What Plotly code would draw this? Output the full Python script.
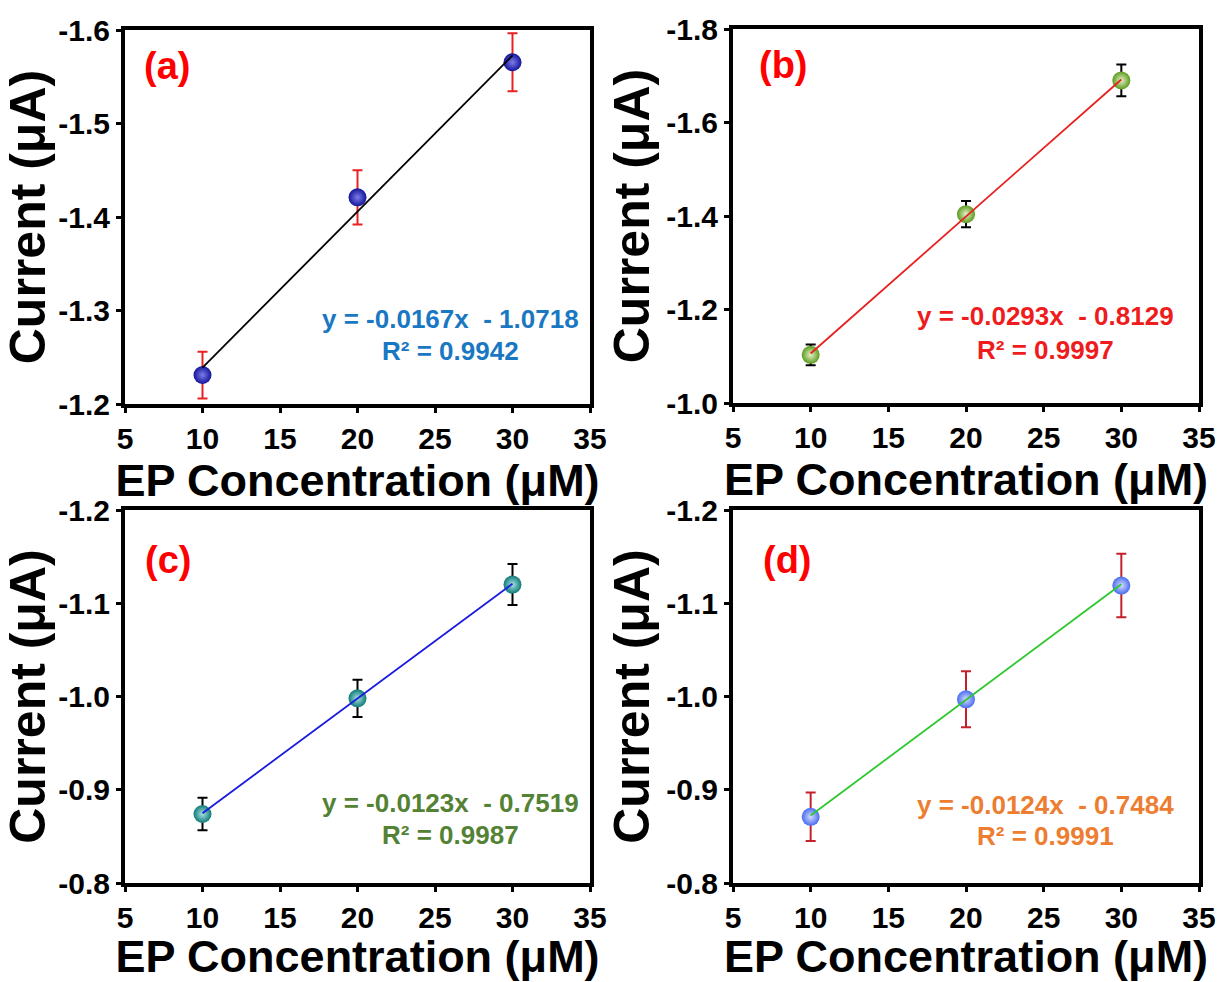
import plotly.graph_objects as go

# ---------------- data ----------------
conc = [10, 20, 30]

current_a = [-1.231, -1.421, -1.5655]
current_b = [-1.103, -1.404, -1.690]
current_c = [-0.874, -0.998, -1.120]
current_d = [-0.871, -0.997, -1.119]

err_a = [0.025, 0.029, 0.031]
err_b = [0.022, 0.028, 0.034]
err_c = [0.0175, 0.020, 0.022]
err_d = [0.026, 0.030, 0.034]

slopes = [-0.0167, -0.0293, -0.0123, -0.0124]
intercepts = [-1.0718, -0.8129, -0.7519, -0.7484]
r2_values = ["0.9942", "0.9997", "0.9987", "0.9991"]
panel_labels = ["(a)", "(b)", "(c)", "(d)"]

x_ticks = [5, 10, 15, 20, 25, 30, 35]
x_ticklabels = ["5", "10", "15", "20", "25", "30", "35"]

y_ticks_a = [-1.6, -1.5, -1.4, -1.3, -1.2]
y_ticklabels_a = ["-1.6", "-1.5", "-1.4", "-1.3", "-1.2"]
y_ticks_b = [-1.8, -1.6, -1.4, -1.2, -1.0]
y_ticklabels_b = ["-1.8", "-1.6", "-1.4", "-1.2", "-1.0"]
y_ticks_cd = [-1.2, -1.1, -1.0, -0.9, -0.8]
y_ticklabels_cd = ["-1.2", "-1.1", "-1.0", "-0.9", "-0.8"]

x_title = "EP Concentration (μM)"
y_title = "Current (μA)"

# ---------------- styles ----------------
FONT = "Liberation Sans, Arial, sans-serif"
W, H = 1227, 982

panels = [
    dict(y=current_a, err=err_a, yt=y_ticks_a, ytl=y_ticklabels_a, yr=[-1.2, -1.6],
         mcol="#14149c", mgrad="#7c7ce8", ecol="#e82222", lcol="#000000", tcol="#1a78c2",
         px=(125, 590), py=(30, 404), eqx=0.701, eqy=(0.227, 0.143), lab=(0.090, 0.905)),
    dict(y=current_b, err=err_b, yt=y_ticks_b, ytl=y_ticklabels_b, yr=[-1.0, -1.8],
         mcol="#5c9a1c", mgrad="#e4f2c8", ecol="#000000", lcol="#e82020", tcol="#ee1c1c",
         px=(733, 1199), py=(29, 403), eqx=0.670, eqy=(0.232, 0.143), lab=(0.109, 0.905)),
    dict(y=current_c, err=err_c, yt=y_ticks_cd, ytl=y_ticklabels_cd, yr=[-0.8, -1.2],
         mcol="#0f7a78", mgrad="#a8e2e2", ecol="#000000", lcol="#1a1ae0", tcol="#548235",
         px=(125, 590), py=(510, 883), eqx=0.701, eqy=(0.214, 0.129), lab=(0.092, 0.865)),
    dict(y=current_d, err=err_d, yt=y_ticks_cd, ytl=y_ticklabels_cd, yr=[-0.8, -1.2],
         mcol="#4a6cf0", mgrad="#d4dcff", ecol="#c4202a", lcol="#2ec82e", tcol="#ed7d31",
         px=(733, 1199), py=(510, 883), eqx=0.670, eqy=(0.210, 0.125), lab=(0.116, 0.865)),
]

fig = go.Figure()
annotations = []
layout_axes = {}

for i, p in enumerate(panels):
    n = i + 1
    xa = "x" if n == 1 else f"x{n}"
    ya = "y" if n == 1 else f"y{n}"
    xkey = "xaxis" if n == 1 else f"xaxis{n}"
    ykey = "yaxis" if n == 1 else f"yaxis{n}"

    # data points with error bars
    fig.add_trace(go.Scatter(
        x=conc, y=p["y"], mode="markers", xaxis=xa, yaxis=ya, showlegend=False,
        marker=dict(size=18, color=p["mcol"],
                    gradient=dict(type="radial", color=p["mgrad"]),
                    line=dict(width=0)),
        error_y=dict(type="data", array=p["err"], visible=True, color=p["ecol"],
                     thickness=2, width=5),
    ))
    # linear fit line from the reported equation
    xf = [conc[0], conc[-1]]
    yf = [slopes[i] * xv + intercepts[i] for xv in xf]
    fig.add_trace(go.Scatter(
        x=xf, y=yf, mode="lines", xaxis=xa, yaxis=ya, showlegend=False,
        line=dict(color=p["lcol"], width=1.8),
    ))

    x0, x1 = p["px"]
    yt0, yb0 = p["py"]
    layout_axes[xkey] = dict(
        domain=[x0 / W, x1 / W], anchor=ya, range=[5, 35], automargin=False,
        tickmode="array", tickvals=x_ticks, ticktext=x_ticklabels,
        showline=True, mirror=True, linecolor="black", linewidth=4,
        ticks="outside", ticklen=5, tickwidth=3, tickcolor="black",
        showgrid=False, zeroline=False,
        tickfont=dict(family=FONT, size=30, color="black", weight="bold"),
        title=dict(text=x_title, standoff=3,
                   font=dict(family=FONT, size=45, color="black", weight="bold")),
    )
    layout_axes[ykey] = dict(
        domain=[1 - yb0 / H, 1 - yt0 / H], anchor=xa, range=p["yr"], automargin=False,
        tickmode="array", tickvals=p["yt"], ticktext=p["ytl"],
        showline=True, mirror=True, linecolor="black", linewidth=4,
        ticks="outside", ticklen=5, tickwidth=3, tickcolor="black",
        showgrid=False, zeroline=False,
        tickfont=dict(family=FONT, size=30, color="black", weight="bold"),
        title=dict(text=y_title, standoff=2,
                   font=dict(family=FONT, size=50, color="black", weight="bold")),
    )

    eq_text = f"y = {slopes[i]:.4f}x  - {abs(intercepts[i]):.4f}"
    annotations.append(dict(
        text=eq_text, xref=f"{xa} domain", yref=f"{ya} domain",
        x=p["eqx"], y=p["eqy"][0], xanchor="center", yanchor="middle", showarrow=False,
        font=dict(family=FONT, size=26, color=p["tcol"], weight="bold")))
    annotations.append(dict(
        text=f"R² = {r2_values[i]}", xref=f"{xa} domain", yref=f"{ya} domain",
        x=p["eqx"], y=p["eqy"][1], xanchor="center", yanchor="middle", showarrow=False,
        font=dict(family=FONT, size=26, color=p["tcol"], weight="bold")))
    annotations.append(dict(
        text=panel_labels[i], xref=f"{xa} domain", yref=f"{ya} domain",
        x=p["lab"][0], y=p["lab"][1], xanchor="center", yanchor="middle", showarrow=False,
        font=dict(family=FONT, size=38, color="#ff0000", weight="bold")))

fig.update_layout(
    width=W, height=H,
    margin=dict(l=0, r=0, t=0, b=0),
    paper_bgcolor="white", plot_bgcolor="white",
    annotations=annotations,
    showlegend=False,
    **layout_axes,
)

fig.write_html("out.html")
